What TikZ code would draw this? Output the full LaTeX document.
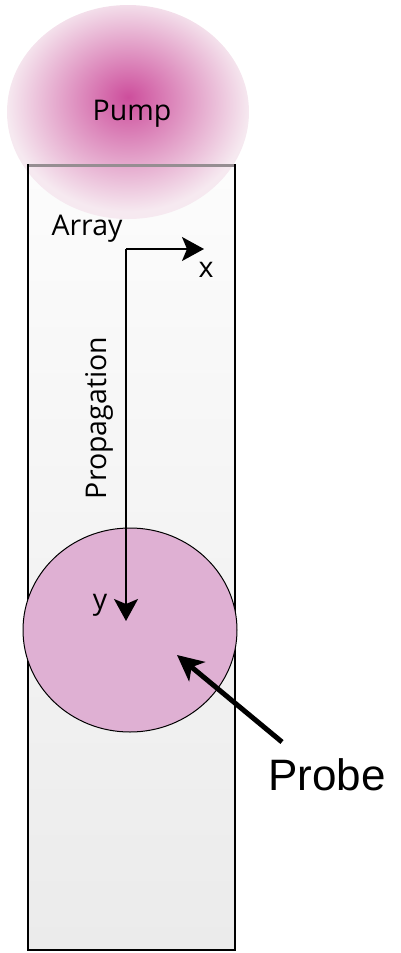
\documentclass[tikz,border=0pt]{standalone}
\usepackage{fontspec}
\setmainfont{Open Sans}
\newfontfamily\arialfont{Liberation Sans}
\usetikzlibrary{shapes.geometric,arrows.meta}
\definecolor{pumpA}{RGB}{205,78,156}
\definecolor{pumpC}{RGB}{246,233,240}
\definecolor{probefill}{RGB}{223,176,211}
\definecolor{arraytop}{RGB}{252,252,252}
\definecolor{arraybot}{RGB}{235,235,235}
\definecolor{edgegray}{RGB}{150,142,146}
\pgfdeclareradialshading{pumpshade}{\pgfpoint{0bp}{3.5bp}}{color(0bp)=(pumpA); color(25bp)=(pumpC); color(50bp)=(pumpC)}
\tikzset{
  lbl/.style={inner sep=0pt, font=\fontsize{28.5}{34}\selectfont},
  axis/.style={line width=1.8pt, -{Stealth[length=22pt,width=24pt,inset=5pt]}},
  pointer/.style={line width=5pt, -{Stealth[length=26pt,width=25pt,inset=7pt]}},
}
\begin{document}
\begin{tikzpicture}[x=1pt,y=-1pt]
\useasboundingbox (0,0) rectangle (400,953);
% array body
\shade[top color=arraytop, bottom color=arraybot] (28,165) rectangle (235,950);
% pump spot
\node[ellipse, inner sep=0pt, minimum width=242pt, minimum height=214pt, shading=pumpshade] (pump) at (128,112) {};
% array edges
\draw[line width=3pt, edgegray] (27,165) -- (236,165);
\draw[line width=2.8pt, line join=miter] (28,164) -- (28,950) -- (235,950) -- (235,164);
% labels
\node[lbl, anchor=base] (pumplbl) at (132,120) {Pump};
\node[lbl, anchor=base] (arraylbl) at (87,235) {Array};
% probe spot
\node[ellipse, draw=black, line width=1pt, fill=probefill, inner sep=0pt, minimum width=214pt, minimum height=204pt] (probe) at (130,630) {};
% axes
\coordinate (origin) at (126,249);
\coordinate (xtip) at (204,249);
\coordinate (ytip) at (126,621);
\draw[axis] (origin) -- (xtip);
\draw[axis] (origin) -- (ytip);
\node[lbl, anchor=base] (xlbl) at (206,277) {x};
\node[lbl, anchor=base] (ylbl) at (100,609) {y};
\node[lbl, rotate=90] (proplbl) at (99,418) {Propagation};
% probe label and pointer
\node[inner sep=0pt, anchor=base, font=\arialfont\fontsize{44}{50}\selectfont] (probelbl) at (327,790) {Probe};
\coordinate (ptail) at (282,742);
\coordinate (phead) at (177,655);
\draw[pointer] (ptail) -- (phead);
\end{tikzpicture}
\end{document}
